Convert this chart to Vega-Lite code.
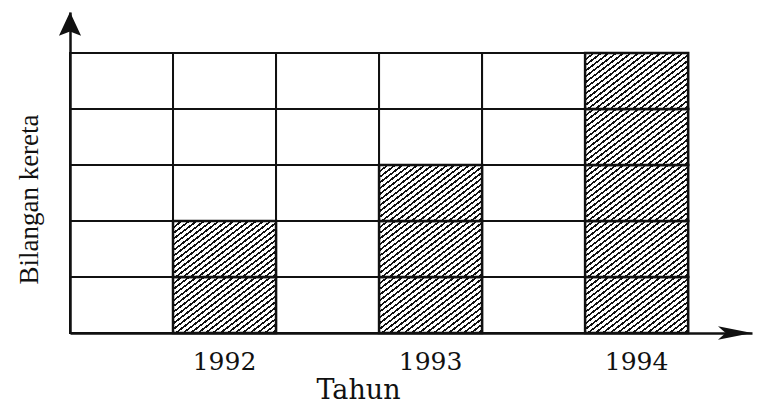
{
  "$schema": "https://vega.github.io/schema/vega-lite/v6.json",
  "width": 682,
  "height": 321,
  "autosize": {"type": "none"},
  "padding": {"left": 70, "top": 12, "right": 5, "bottom": 72},
  "background": "white",
  "config": {"view": {"stroke": null}},
  "datasets": {
    "sel": [
      {"tahun": "k1", "unit": 1, "terisi": false},
      {"tahun": "k1", "unit": 2, "terisi": false},
      {"tahun": "k1", "unit": 3, "terisi": false},
      {"tahun": "k1", "unit": 4, "terisi": false},
      {"tahun": "k1", "unit": 5, "terisi": false},
      {"tahun": "1992", "unit": 1, "terisi": true},
      {"tahun": "1992", "unit": 2, "terisi": true},
      {"tahun": "1992", "unit": 3, "terisi": false},
      {"tahun": "1992", "unit": 4, "terisi": false},
      {"tahun": "1992", "unit": 5, "terisi": false},
      {"tahun": "k3", "unit": 1, "terisi": false},
      {"tahun": "k3", "unit": 2, "terisi": false},
      {"tahun": "k3", "unit": 3, "terisi": false},
      {"tahun": "k3", "unit": 4, "terisi": false},
      {"tahun": "k3", "unit": 5, "terisi": false},
      {"tahun": "1993", "unit": 1, "terisi": true},
      {"tahun": "1993", "unit": 2, "terisi": true},
      {"tahun": "1993", "unit": 3, "terisi": true},
      {"tahun": "1993", "unit": 4, "terisi": false},
      {"tahun": "1993", "unit": 5, "terisi": false},
      {"tahun": "k5", "unit": 1, "terisi": false},
      {"tahun": "k5", "unit": 2, "terisi": false},
      {"tahun": "k5", "unit": 3, "terisi": false},
      {"tahun": "k5", "unit": 4, "terisi": false},
      {"tahun": "k5", "unit": 5, "terisi": false},
      {"tahun": "1994", "unit": 1, "terisi": true},
      {"tahun": "1994", "unit": 2, "terisi": true},
      {"tahun": "1994", "unit": 3, "terisi": true},
      {"tahun": "1994", "unit": 4, "terisi": true},
      {"tahun": "1994", "unit": 5, "terisi": true}
    ]
  },
  "resolve": {"scale": {"x": "independent", "y": "independent"}, "axis": {"x": "independent", "y": "independent"}},
  "layer": [
    {
      "data": {"name": "sel"},
      "mark": {"type": "rect", "fill": "white", "stroke": "#111", "strokeWidth": 2},
      "encoding": {
        "x": {
          "field": "tahun", "type": "ordinal",
          "scale": {"domain": ["k1", "1992", "k3", "1993", "k5", "1994"], "paddingInner": 0, "paddingOuter": 0.31, "align": 0},
          "axis": {
            "title": "Tahun", "domain": true, "domainColor": "#111", "domainWidth": 2.5,
            "ticks": false, "grid": false, "labelAngle": 0,
            "labelExpr": "indexof(['1992','1993','1994'], datum.value) >= 0 ? datum.value : ''",
            "labelFont": "DejaVu Serif", "labelFontSize": 25, "labelColor": "#111", "labelPadding": 16, "labelDx": -5,
            "titleFont": "DejaVu Serif", "titleFontSize": 27, "titleFontWeight": "normal", "titleColor": "#111",
            "titlePadding": 3, "titleX": 288
          }
        },
        "y": {
          "field": "unit", "type": "ordinal",
          "scale": {"domain": [5, 4, 3, 2, 1], "paddingInner": 0, "paddingOuter": 0.366, "align": 1},
          "axis": {
            "title": "Bilangan kereta", "domain": true, "domainColor": "#111", "domainWidth": 2.5,
            "ticks": false, "labels": false, "grid": false,
            "titleFont": "Liberation Serif", "titleFontSize": 27, "titleFontWeight": "normal", "titleColor": "#111",
            "titlePadding": 27, "titleY": 187
          }
        }
      }
    },
    {
      "data": {"name": "sel"},
      "transform": [{"filter": "datum.terisi"}],
      "mark": {
        "type": "rect", "stroke": "#111", "strokeWidth": 2.5,
        "fill": {
          "gradient": "linear", "x1": 0, "y1": 0, "x2": 1.2, "y2": 0.85,
          "stops": [
            {"offset": 0, "color": "#111"}, {"offset": 0.015, "color": "#111"}, {"offset": 0.015, "color": "white"},
            {"offset": 0.04, "color": "white"}, {"offset": 0.04, "color": "#111"}, {"offset": 0.055, "color": "#111"}, {"offset": 0.055, "color": "white"},
            {"offset": 0.08, "color": "white"}, {"offset": 0.08, "color": "#111"}, {"offset": 0.095, "color": "#111"}, {"offset": 0.095, "color": "white"},
            {"offset": 0.12, "color": "white"}, {"offset": 0.12, "color": "#111"}, {"offset": 0.135, "color": "#111"}, {"offset": 0.135, "color": "white"},
            {"offset": 0.16, "color": "white"}, {"offset": 0.16, "color": "#111"}, {"offset": 0.175, "color": "#111"}, {"offset": 0.175, "color": "white"},
            {"offset": 0.2, "color": "white"}, {"offset": 0.2, "color": "#111"}, {"offset": 0.215, "color": "#111"}, {"offset": 0.215, "color": "white"},
            {"offset": 0.24, "color": "white"}, {"offset": 0.24, "color": "#111"}, {"offset": 0.255, "color": "#111"}, {"offset": 0.255, "color": "white"},
            {"offset": 0.28, "color": "white"}, {"offset": 0.28, "color": "#111"}, {"offset": 0.295, "color": "#111"}, {"offset": 0.295, "color": "white"},
            {"offset": 0.32, "color": "white"}, {"offset": 0.32, "color": "#111"}, {"offset": 0.335, "color": "#111"}, {"offset": 0.335, "color": "white"},
            {"offset": 0.36, "color": "white"}, {"offset": 0.36, "color": "#111"}, {"offset": 0.375, "color": "#111"}, {"offset": 0.375, "color": "white"},
            {"offset": 0.4, "color": "white"}, {"offset": 0.4, "color": "#111"}, {"offset": 0.415, "color": "#111"}, {"offset": 0.415, "color": "white"},
            {"offset": 0.44, "color": "white"}, {"offset": 0.44, "color": "#111"}, {"offset": 0.455, "color": "#111"}, {"offset": 0.455, "color": "white"},
            {"offset": 0.48, "color": "white"}, {"offset": 0.48, "color": "#111"}, {"offset": 0.495, "color": "#111"}, {"offset": 0.495, "color": "white"},
            {"offset": 0.52, "color": "white"}, {"offset": 0.52, "color": "#111"}, {"offset": 0.535, "color": "#111"}, {"offset": 0.535, "color": "white"},
            {"offset": 0.56, "color": "white"}, {"offset": 0.56, "color": "#111"}, {"offset": 0.575, "color": "#111"}, {"offset": 0.575, "color": "white"},
            {"offset": 0.6, "color": "white"}, {"offset": 0.6, "color": "#111"}, {"offset": 0.615, "color": "#111"}, {"offset": 0.615, "color": "white"},
            {"offset": 0.64, "color": "white"}, {"offset": 0.64, "color": "#111"}, {"offset": 0.655, "color": "#111"}, {"offset": 0.655, "color": "white"},
            {"offset": 0.68, "color": "white"}, {"offset": 0.68, "color": "#111"}, {"offset": 0.695, "color": "#111"}, {"offset": 0.695, "color": "white"},
            {"offset": 0.72, "color": "white"}, {"offset": 0.72, "color": "#111"}, {"offset": 0.735, "color": "#111"}, {"offset": 0.735, "color": "white"},
            {"offset": 0.76, "color": "white"}, {"offset": 0.76, "color": "#111"}, {"offset": 0.775, "color": "#111"}, {"offset": 0.775, "color": "white"},
            {"offset": 0.8, "color": "white"}, {"offset": 0.8, "color": "#111"}, {"offset": 0.815, "color": "#111"}, {"offset": 0.815, "color": "white"},
            {"offset": 0.84, "color": "white"}, {"offset": 0.84, "color": "#111"}, {"offset": 0.855, "color": "#111"}, {"offset": 0.855, "color": "white"},
            {"offset": 0.88, "color": "white"}, {"offset": 0.88, "color": "#111"}, {"offset": 0.895, "color": "#111"}, {"offset": 0.895, "color": "white"},
            {"offset": 0.92, "color": "white"}, {"offset": 0.92, "color": "#111"}, {"offset": 0.935, "color": "#111"}, {"offset": 0.935, "color": "white"},
            {"offset": 0.96, "color": "white"}, {"offset": 0.96, "color": "#111"}, {"offset": 0.975, "color": "#111"}, {"offset": 0.975, "color": "white"},
            {"offset": 1, "color": "white"}
          ]
        }
      },
      "encoding": {
        "x": {"field": "tahun", "type": "ordinal", "scale": {"domain": ["k1", "1992", "k3", "1993", "k5", "1994"], "paddingInner": 0, "paddingOuter": 0.31, "align": 0}, "axis": null},
        "y": {"field": "unit", "type": "ordinal", "scale": {"domain": [5, 4, 3, 2, 1], "paddingInner": 0, "paddingOuter": 0.366, "align": 1}, "axis": null}
      }
    },
    {
      "data": {"values": [{}]},
      "mark": {"type": "point", "shape": "M0,0 L-2,-0.4 L-1.55,0 L-2,0.4 Z", "filled": true, "color": "#111", "opacity": 1, "size": 1156},
      "encoding": {
        "x": {"datum": 1, "type": "quantitative", "scale": {"domain": [0, 1]}, "axis": null},
        "y": {"datum": 0, "type": "quantitative", "scale": {"domain": [0, 1]}, "axis": null}
      }
    },
    {
      "data": {"values": [{}]},
      "mark": {"type": "point", "shape": "M0,0 L0.65,1.4 L0,1.15 L-0.65,1.4 Z", "filled": true, "color": "#111", "opacity": 1, "size": 1156},
      "encoding": {
        "x": {"datum": 0, "type": "quantitative", "scale": {"domain": [0, 1]}, "axis": null},
        "y": {"datum": 1, "type": "quantitative", "scale": {"domain": [0, 1]}, "axis": null}
      }
    }
  ]
}
